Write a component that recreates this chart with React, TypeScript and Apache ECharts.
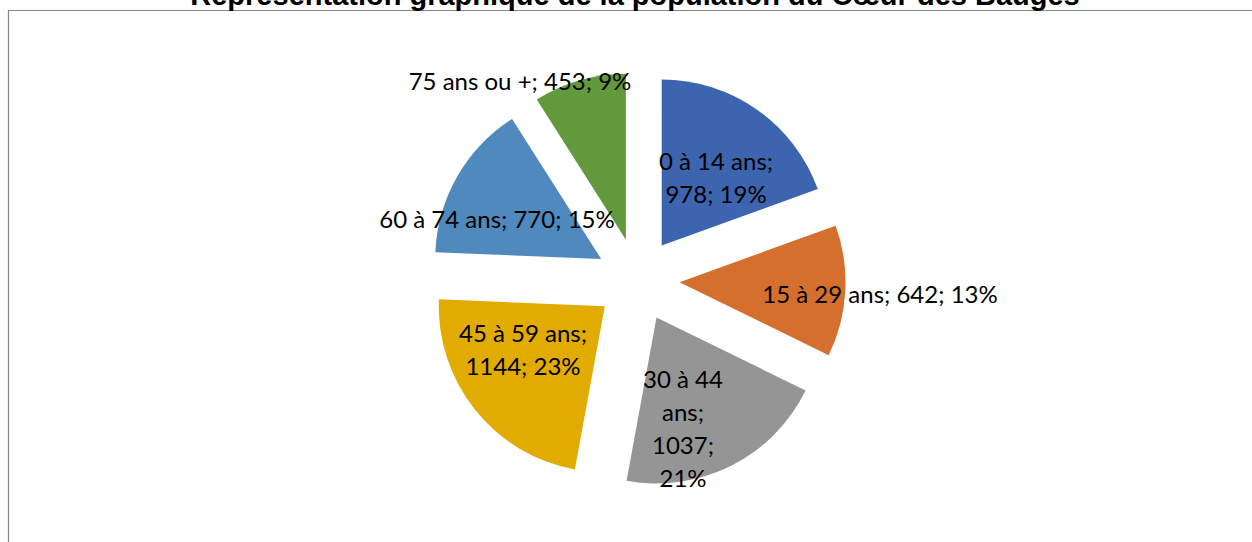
import React, { useEffect, useRef } from "react";
import * as echarts from "echarts";

const titleText = "Représentation graphique de la population du Cœur des Bauges";
const categories = ["0 à 14 ans", "15 à 29 ans", "30 à 44 ans", "45 à 59 ans", "60 à 74 ans", "75 ans ou +"];
const values = [978, 642, 1037, 1144, 770, 453];
const colors = ["#3D64AE", "#D46F2D", "#959595", "#E2AB00", "#4F89BE", "#63993D"];
// words per label line (null = a single line), as wrapped in the reference
const labelLineWords: (number[] | null)[] = [[4, 2], null, [3, 1, 1, 1], [4, 2], null, null];
// label centres, as in the reference
const labelCenters: [number, number][] = [
  [716, 177],
  [880, 293],
  [683, 428],
  [523, 349],
  [497, 218],
  [520, 80],
];

function labelText(i: number): string {
  const total = values.reduce((a, b) => a + b, 0);
  const pct = Math.round((values[i] / total) * 100);
  const full = `${categories[i]}; ${values[i]}; ${pct}%`;
  const spec = labelLineWords[i];
  if (!spec) return full;
  const words = full.split(" ");
  const lines: string[] = [];
  let k = 0;
  for (const n of spec) {
    lines.push(words.slice(k, k + n).join(" "));
    k += n;
  }
  return lines.join("\n");
}

export default function App() {
  const ref = useRef<HTMLDivElement>(null);
  useEffect(() => {
    if (!ref.current) return;
    const chart = echarts.init(ref.current, null, { renderer: "svg" });
    const data = categories.map((name, i) => ({
      name,
      value: values[i],
      selected: true,
      itemStyle: { color: colors[i] },
    }));
    const labels = categories.map((_, i) => ({
      type: "text",
      z: 100,
      x: labelCenters[i][0],
      y: labelCenters[i][1],
      style: {
        text: labelText(i),
        fontFamily: "Lato, 'Noto Sans', sans-serif",
        fontSize: 24,
        lineHeight: 33,
        fill: "#000",
        align: "center",
        verticalAlign: "middle",
      },
    }));
    chart.setOption({
      animation: false,
      graphic: [
        {
          type: "rect",
          z: -1,
          shape: { x: 8.5, y: 10.5, width: 1400, height: 800 },
          style: { fill: "none", stroke: "#878787", lineWidth: 1.2 },
        },
        {
          type: "text",
          x: 635,
          y: -5,
          style: {
            text: titleText,
            fontFamily: "'Liberation Sans', Arial, sans-serif",
            fontWeight: "bold",
            fontSize: 29,
            fill: "#000",
            align: "center",
            verticalAlign: "middle",
          },
        },
        ...labels,
      ],
      series: [
        {
          type: "pie",
          center: [637.6, 280],
          radius: 166,
          startAngle: 90,
          clockwise: true,
          selectedMode: "multiple",
          selectedOffset: 42,
          emphasis: { disabled: true },
          label: { show: false },
          labelLine: { show: false },
          data,
        },
      ],
    });
    return () => chart.dispose();
  }, []);
  return (
    <div
      ref={ref}
      style={{ position: "absolute", left: 0, top: 0, width: 1252, height: 542, background: "#fff" }}
    />
  );
}
